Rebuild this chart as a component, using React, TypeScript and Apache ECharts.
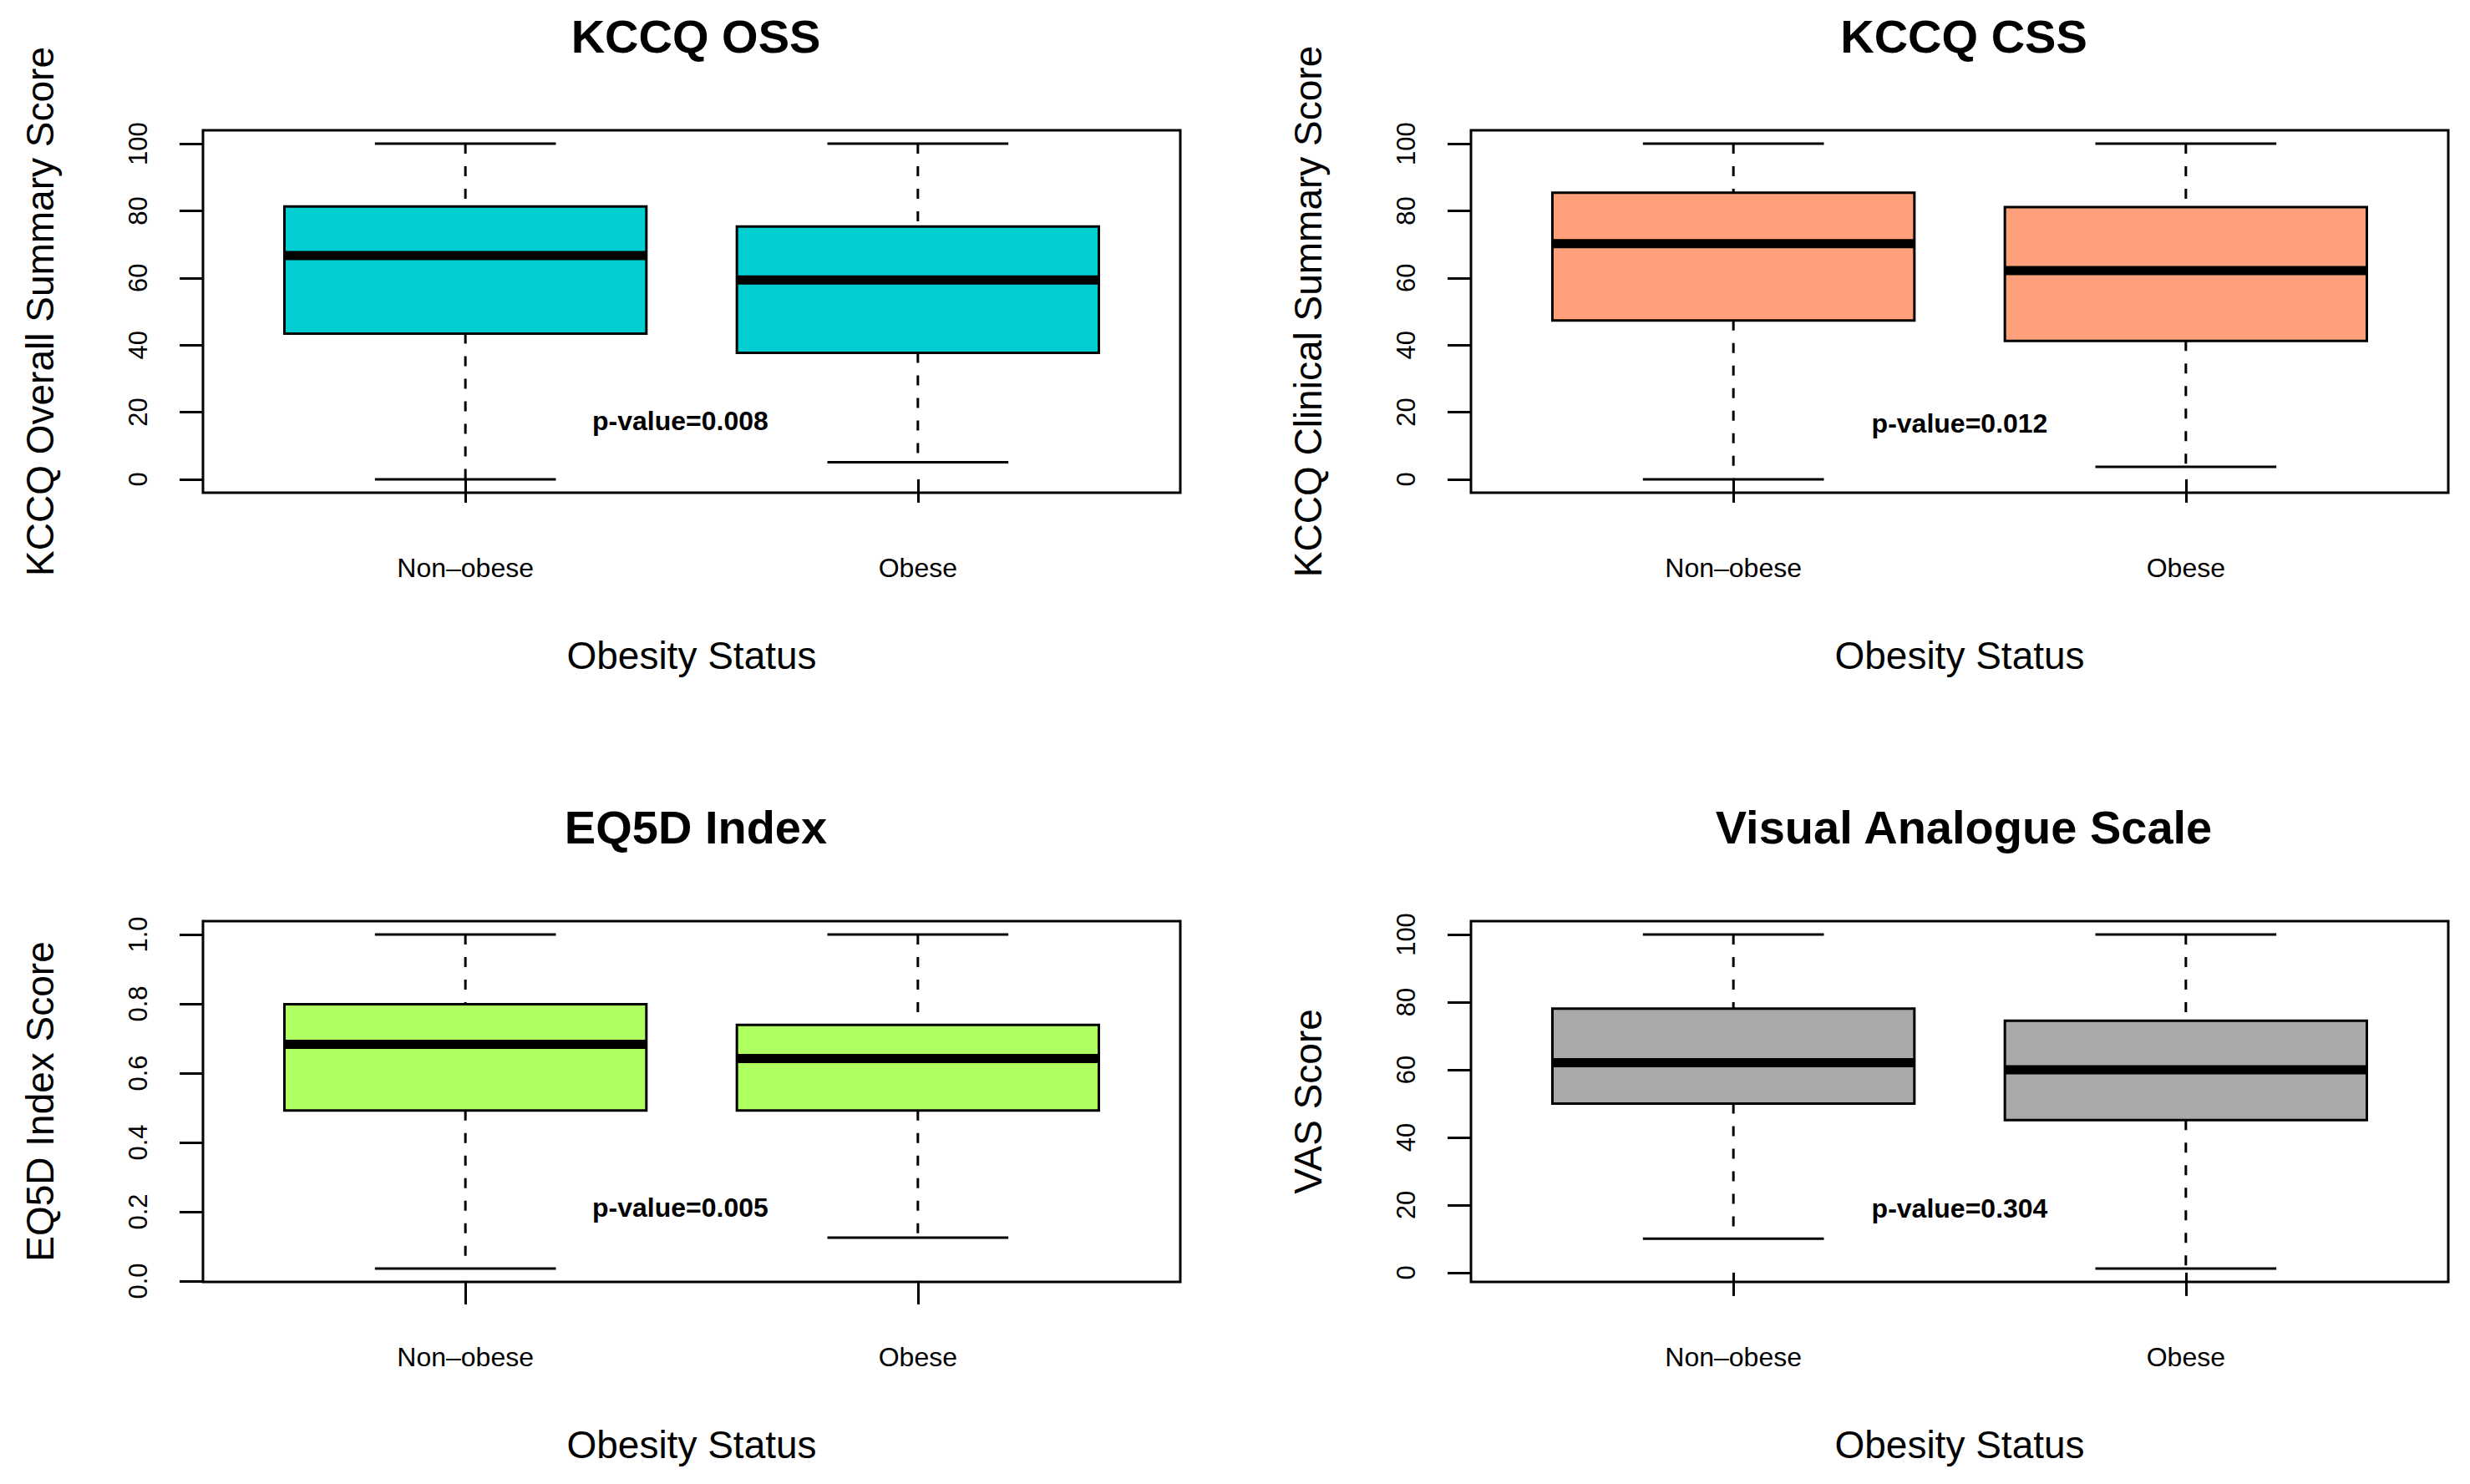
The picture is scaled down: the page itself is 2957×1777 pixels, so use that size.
import React, { useEffect, useRef } from "react";
import * as echarts from "echarts";

// ---------- data ----------
const categories = ["Non–obese", "Obese"];
const panelTitles = ["KCCQ OSS", "KCCQ CSS", "EQ5D Index", "Visual Analogue Scale"];
const yAxisTitles = [
  "KCCQ Overall Summary Score",
  "KCCQ Clinical Summary Score",
  "EQ5D Index Score",
  "VAS Score",
];
const xAxisTitle = "Obesity Status";

// [min, Q1, median, Q3, max]
const ossNonObese = [0, 43.4, 66.7, 81.3, 100];
const ossObese = [5.1, 37.7, 59.4, 75.3, 100];
const cssNonObese = [0, 47.3, 70.2, 85.4, 100];
const cssObese = [3.7, 41.2, 62.2, 81.1, 100];
const eq5dNonObese = [0.036, 0.492, 0.683, 0.799, 1.0];
const eq5dObese = [0.125, 0.492, 0.642, 0.739, 1.0];
const vasNonObese = [10, 50, 62.1, 78.1, 100];
const vasObese = [1.2, 45.1, 60, 74.5, 100];

const scoreTicks = [0, 20, 40, 60, 80, 100];
const indexTicks = [0, 0.2, 0.4, 0.6, 0.8, 1.0];

const pValueTexts = ["p-value=0.008", "p-value=0.012", "p-value=0.005", "p-value=0.304"];
const pValueAnchorX = [1.475, 1.5, 1.475, 1.5];
const pValueAnchorY = [17.5, 16.7, 0.213, 19.0];

// ---------- styles / layout ----------
const FONT = '"Liberation Sans", Arial, Helvetica, sans-serif';
const boxColors = ["#00CED1", "#FFA07A", "#AFFF62", "#A9A9A9"];
const gridLefts = [243, 1761];
const gridTops = [156, 1103];
const gridHeights = [434, 432];
const gridWidth = 1170;

const panelData = [
  [ossNonObese, ossObese],
  [cssNonObese, cssObese],
  [eq5dNonObese, eq5dObese],
  [vasNonObese, vasObese],
];
const panelTicks = [scoreTicks, scoreTicks, indexTicks, scoreTicks];
const panelDecimals = [0, 0, 1, 0];

function buildOption() {
  const grid: any[] = [];
  const xAxis: any[] = [];
  const yAxis: any[] = [];
  const series: any[] = [];
  const title: any[] = [];

  for (let i = 0; i < 4; i++) {
    const col = i % 2;
    const row = Math.floor(i / 2);
    const left = gridLefts[col];
    const top = gridTops[row];
    const height = gridHeights[row];

    grid.push({
      left,
      top,
      width: gridWidth,
      height,
      show: true,
      borderColor: "#000",
      borderWidth: 3,
      backgroundColor: "transparent",
      containLabel: false,
    });

    title.push({
      text: panelTitles[i],
      left: left + gridWidth / 2,
      top: top - 146,
      textAlign: "center",
      textStyle: { fontFamily: FONT, fontSize: 56, fontWeight: "bold", color: "#000" },
    });

    // R-style 4% range extension
    const groups = panelData[i];
    const lo = Math.min(groups[0][0], groups[1][0]);
    const hi = Math.max(groups[0][4], groups[1][4]);
    const ext = (hi - lo) * 0.04;
    const ticks = panelTicks[i];
    const dec = panelDecimals[i];

    xAxis.push({
      type: "value",
      gridIndex: i,
      min: 0.42,
      max: 2.58,
      splitLine: { show: false },
      axisLine: { show: false },
      axisTick: {
        show: true,
        customValues: [1, 2],
        length: 28,
        lineStyle: { color: "#000", width: 3 },
      },
      axisLabel: {
        show: true,
        customValues: [1, 2],
        formatter: (v: number) => categories[Math.round(v) - 1] ?? "",
        margin: 74,
        fontFamily: FONT,
        fontSize: 32,
        color: "#000",
      },
      name: xAxisTitle,
      nameLocation: "middle",
      nameGap: 172,
      nameTextStyle: { fontFamily: FONT, fontSize: 46, color: "#000" },
    });

    yAxis.push({
      type: "value",
      gridIndex: i,
      min: lo - ext,
      max: hi + ext,
      splitLine: { show: false },
      axisLine: { show: false },
      axisTick: {
        show: true,
        customValues: ticks,
        length: 28,
        lineStyle: { color: "#000", width: 3 },
      },
      axisLabel: {
        show: true,
        customValues: ticks,
        rotate: 90,
        margin: 62,
        formatter: (v: number) => v.toFixed(dec),
        fontFamily: FONT,
        fontSize: 31,
        color: "#000",
      },
      name: yAxisTitles[i],
      nameLocation: "middle",
      nameGap: 172,
      nameTextStyle: { fontFamily: FONT, fontSize: 46, color: "#000" },
    });

    const fill = boxColors[i];
    series.push({
      type: "custom",
      xAxisIndex: i,
      yAxisIndex: i,
      clip: false,
      encode: { x: 0, y: [1, 2, 3, 4, 5] },
      data: groups.map((g, k) => [k + 1, ...g]),
      renderItem: (_params: any, api: any) => {
        const x = api.value(0);
        const mn = api.value(1);
        const q1 = api.value(2);
        const md = api.value(3);
        const q3 = api.value(4);
        const mx = api.value(5);
        const half = 0.4;
        const cap = 0.2;
        const [xl, yq3] = api.coord([x - half, q3]);
        const [xr, yq1] = api.coord([x + half, q1]);
        const [xc, ymx] = api.coord([x, mx]);
        const ymn = api.coord([x, mn])[1];
        const ymd = api.coord([x, md])[1];
        const cl = api.coord([x - cap, mx])[0];
        const cr = api.coord([x + cap, mx])[0];
        const thin = { stroke: "#000", lineWidth: 3 };
        const dashed = { stroke: "#000", lineWidth: 3, lineDash: [12, 15] };
        return {
          type: "group",
          children: [
            { type: "line", shape: { x1: xc, y1: ymx, x2: xc, y2: yq3 }, style: dashed },
            { type: "line", shape: { x1: xc, y1: yq1, x2: xc, y2: ymn }, style: dashed },
            { type: "line", shape: { x1: cl, y1: ymx, x2: cr, y2: ymx }, style: thin },
            { type: "line", shape: { x1: cl, y1: ymn, x2: cr, y2: ymn }, style: thin },
            {
              type: "rect",
              shape: { x: xl, y: yq3, width: xr - xl, height: yq1 - yq3 },
              style: { fill, stroke: "#000", lineWidth: 3 },
            },
            {
              type: "line",
              shape: { x1: xl, y1: ymd, x2: xr, y2: ymd },
              style: { stroke: "#000", lineWidth: 11 },
            },
          ],
        };
      },
    });

    const ptxt = pValueTexts[i];
    series.push({
      type: "custom",
      xAxisIndex: i,
      yAxisIndex: i,
      clip: false,
      encode: { x: 0, y: 1 },
      data: [[pValueAnchorX[i], pValueAnchorY[i]]],
      renderItem: (_params: any, api: any) => {
        const [px, py] = api.coord([api.value(0), api.value(1)]);
        return {
          type: "text",
          x: px,
          y: py,
          style: {
            text: ptxt,
            fontFamily: FONT,
            fontSize: 32,
            fontWeight: "bold",
            fill: "#000",
            align: "center",
            verticalAlign: "middle",
          },
        };
      },
    });
  }

  return {
    animation: false,
    backgroundColor: "#fff",
    title,
    grid,
    xAxis,
    yAxis,
    series,
  };
}

export default function App() {
  const ref = useRef<HTMLDivElement>(null);
  useEffect(() => {
    document.body.style.margin = "0";
    if (!ref.current) return;
    const chart = echarts.init(ref.current, null, { renderer: "svg" });
    chart.setOption(buildOption() as any);
    return () => chart.dispose();
  }, []);
  return <div ref={ref} style={{ width: 2957, height: 1777 }} />;
}
